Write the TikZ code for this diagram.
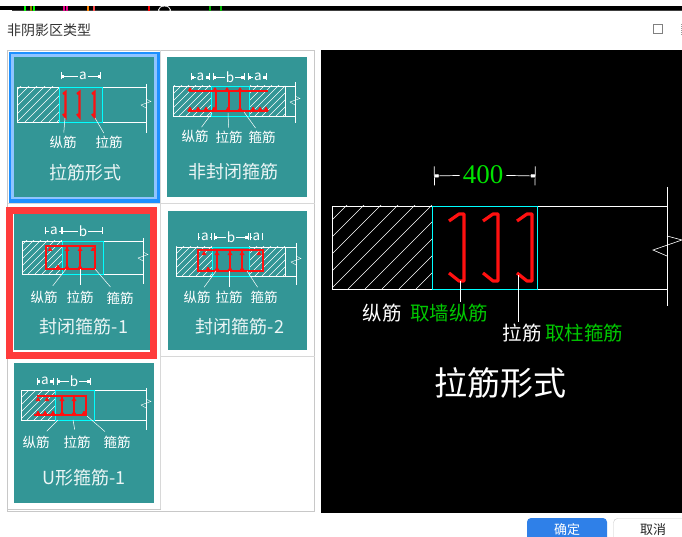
\documentclass[tikz,border=0pt]{standalone}
\usepackage{fontspec}
\usepackage{xcolor}
\setmainfont{Noto Sans CJK SC}
\newfontfamily\cadfont{Liberation Serif}
\usetikzlibrary{arrows.meta,calc,positioning}
\definecolor{cardteal}{HTML}{339696}
\definecolor{selblue}{HTML}{1E90FF}
\definecolor{sellight}{HTML}{8FC4FF}
\definecolor{markred}{HTML}{FF3B3B}
\definecolor{barred}{HTML}{FF1010}
\definecolor{cadcyan}{HTML}{00FFFF}
\definecolor{cadgreen}{HTML}{00C800}
\definecolor{okblue}{HTML}{2F80E8}
\definecolor{gridgray}{HTML}{C8C8C8}
\definecolor{celgray}{HTML}{D8D8D8}
\tikzset{
	wallline/.style={white, line width=0.8pt},
	cyanline/.style={cadcyan, line width=0.8pt},
	hatchline/.style={white, line width=0.4pt},
	rebar/.style={barred, line width=2pt},
	hoopbar/.style={barred, line width=2.4pt},
	leader/.style={white, line width=0.5pt, shorten >=3pt},
	dimline/.style={white, line width=0.7pt, {Bar[width=7pt,sep=1.5pt]Square[length=2.5pt,width=2.5pt]}-},
	dimplain/.style={white, line width=0.7pt, {Bar[width=7pt]}-},
	dimtext/.style={text=white, font=\fontsize{13.5}{14}\selectfont, inner sep=1pt},
	partlabel/.style={text=white, font=\fontsize{13.5}{14}\selectfont, inner sep=0pt},
	cardtitle/.style={text=white!90!cardteal, font=\fontsize{18}{18}\selectfont, inner sep=0pt},
	cadlabel/.style={font=\fontsize{19.5}{20}\selectfont, inner sep=0pt},
	card/.style={fill=cardteal, draw=none},
}
\newcommand{\hatchbox}[5]{%
	\begin{scope}
		\clip (#1,#2) rectangle (#3,#4);
		\pgfmathsetmacro{\hatchnext}{-120+#5}
		\foreach \k in {-120,\hatchnext,...,130}
			\draw [hatchline] ($(#1,#4)+(\k,0)$) -- ++(120,-120);
	\end{scope}
}
\newcommand{\barmark}[2]{\fill [barred] (#1-2.5,#2) -- (#1,#2-4) -- (#1+2.5,#2) -- cycle;}
\newcommand{\breakmark}[2]{\draw [hatchline] (#1,#2-5) -- (#1+5,#2-2.5) -- (#1-5,#2+1) -- (#1,#2+4);}
\begin{document}
\begin{tikzpicture}[x=1pt, y=-1pt]
	\clip (0,0) rectangle (682,537);
	\fill [white] (0,0) rectangle (682,537);
	% window title
	\fill [black] (0,6) rectangle (682,10);
	\fill [black!75] (0,10) rectangle (682,11);
	\fill [white] (0,10) rectangle (12,12);
	\foreach \xa/\col in {24/green,30/olive,33/green,63/magenta,66/magenta,87/orange,93/red!70,148/red,209/green!70!black,220/green!70!black}
		\fill [\col] (\xa,6) rectangle (\xa+1.5,11);
	\draw [white, line width=0.8pt] (164.5,10) ellipse (6 and 4);
	\node [anchor=west, inner sep=0pt, text=black!80, font=\fontsize{14}{14}\selectfont] (wintitle) at (7,30) {非阴影区类型};
	\draw [black!50, line width=0.9pt] (653.5,24.5) rectangle (662.5,33.5);
	\draw [black!40, line width=1pt, densely dotted] (681.5,24) -- (681.5,35);
	% list frame
	\draw [gridgray, line width=1pt] (7.5,50.5) rectangle (314.5,511.5);
	\draw [celgray, line width=1pt] (160.5,50.5) -- (160.5,509.5);
	\draw [celgray, line width=1pt] (7.5,203.5) -- (314.5,203.5);
	\draw [celgray, line width=1pt] (160.5,356.5) -- (314.5,356.5);
	\draw [gridgray, line width=1pt] (7.5,509.5) -- (160.5,509.5);
	% selection marks
	\fill [selblue] (9,52) rectangle (160,203);
	\fill [sellight] (11,54) rectangle (157,199);
	\fill [markred] (6,207) rectangle (157,359);
	\fill [white] (13,214) rectangle (150,352);
	% cards
	\fill [card] (14,57) rectangle (154,197);
	\fill [card] (167,57) rectangle (307,197);
	\fill [card] (14,214) rectangle (150,350);
	\fill [card] (168,211) rectangle (307,350);
	\fill [card] (14,363) rectangle (154,503);

	% card 1
	\hatchbox{17}{87}{59}{122}{8}
	\draw [wallline] (17,87) rectangle (59,122);
	\draw [wallline] (59,87) -- (146,87);
	\draw [wallline] (59,122) -- (146,122);
	\draw [wallline] (146,84) -- (146,133);
	\draw [cyanline] (59,87) rectangle (102.5,122);
	\breakmark{146}{104}
	\foreach \xa in {65,79,94}
		\draw [rebar, line width=2.2pt] (\xa-2,94) -- (\xa+0.5,92) -- (\xa+0.5,117) -- (\xa-2,114);
	\coordinate (c1a) at (59,76);
	\coordinate (c1b) at (102.5,76);
	\node [dimtext] (c1dim) at (83,76) {a};
	\draw [dimline] (c1a) -- (c1dim);
	\draw [dimline] (c1b) -- (c1dim);
	\node [partlabel] (c1zong) at (63,142) {纵筋};
	\node [partlabel] (c1la) at (109,142) {拉筋};
	\coordinate (c1p) at (65,118);
	\coordinate (c1q) at (95,118);
	\draw [leader] (c1p) -- (c1zong);
	\draw [leader] (c1q) -- (c1la);
	\node [cardtitle] (c1title) at (85,173) {拉筋形式};

	% card 2
	\hatchbox{173}{86}{211}{116}{7}
	\hatchbox{249}{86}{285}{116}{7}
	\draw [wallline] (173,86) rectangle (285,116);
	\draw [wallline] (285,86) -- (295,86);
	\draw [wallline] (285,116) -- (295,116);
	\draw [wallline] (295,82) -- (295,123);
	\draw [cyanline] (211,86) rectangle (249,116);
	\breakmark{295}{101}
	\draw [hoopbar] (189,91) -- (268,91);
	\draw [hoopbar] (188,111) -- (268,111);
	\foreach \xa in {216,229,240}
		\draw [rebar] (\xa,91) -- (\xa,111);
	\foreach \xa in {190,215,227,240}
		\barmark{\xa}{91}
	\foreach \xa in {190,198,206,214,228,240,253,260,266}
		\barmark{\xa}{111}
	\coordinate (c2a) at (189,77);
	\coordinate (c2b) at (211,77);
	\coordinate (c2c) at (246,77);
	\coordinate (c2d) at (268,77);
	\node [dimtext] (c2dima) at (200.5,77) {a};
	\node [dimtext] (c2dimb) at (230,77) {b};
	\node [dimtext] (c2dimc) at (258,77) {a};
	\draw [dimline] (c2a) -- (c2dima);
	\draw [dimline] (c2b) -- (c2dima);
	\draw [dimline] (c2b) -- (c2dimb);
	\draw [dimline] (c2c) -- (c2dimb);
	\draw [dimline] (c2c) -- (c2dimc);
	\draw [dimline] (c2d) -- (c2dimc);
	\node [partlabel] (c2zong) at (195,136) {纵筋};
	\node [partlabel] (c2la) at (229,137) {拉筋};
	\node [partlabel] (c2gu) at (262,137) {箍筋};
	\coordinate (c2p) at (212,113);
	\coordinate (c2q) at (228,113);
	\coordinate (c2r) at (244,112);
	\draw [leader] (c2p) -- (c2zong);
	\draw [leader] (c2q) -- (c2la);
	\draw [leader] (c2r) -- (c2gu);
	\node [cardtitle] (c2title) at (233,172) {非封闭箍筋};

	% card 3
	\hatchbox{22}{241}{62}{274}{7}
	\draw [wallline] (22,241) rectangle (62,274);
	\draw [wallline] (62,241) -- (143,241);
	\draw [wallline] (62,274) -- (143,274);
	\draw [wallline] (143,238) -- (143,284);
	\draw [cyanline] (62,241) rectangle (103,274);
	\breakmark{143}{257}
	\draw [hoopbar] (46,246) rectangle (95,269);
	\foreach \xa in {67,80}
		\draw [rebar] (\xa,246) -- (\xa,269);
	\foreach \xa in {50,67,80,93}
		\barmark{\xa}{251}
	\foreach \xa in {58,67,80}
		\barmark{\xa}{269}
	\coordinate (c3a) at (45,231);
	\coordinate (c3b) at (62,231);
	\coordinate (c3c) at (102.5,231);
	\node [dimtext] (c3dima) at (54,231) {a};
	\node [dimtext] (c3dimb) at (83,231) {b};
	\draw [dimplain] (c3a) -- (c3dima);
	\draw [dimplain] (c3b) -- (c3dima);
	\draw [dimplain] (c3b) -- (c3dimb);
	\draw [dimplain] (c3c) -- (c3dimb);
	\node [partlabel] (c3zong) at (44,297) {纵筋};
	\node [partlabel] (c3la) at (80,297) {拉筋};
	\node [partlabel] (c3gu) at (120,298) {箍筋};
	\coordinate (c3p) at (66,269);
	\coordinate (c3q) at (80,269);
	\coordinate (c3r) at (95,269);
	\draw [leader, shorten >=6pt] (c3p) -- (c3zong);
	\draw [leader, shorten >=6pt] (c3q) -- (c3la);
	\draw [leader, shorten >=6pt] (c3r) -- (c3gu);
	\node [cardtitle] (c3title) at (84,327) {封闭箍筋-1};

	% card 4
	\hatchbox{176}{247}{212}{276}{7}
	\hatchbox{249}{247}{285}{276}{7}
	\draw [wallline] (176,247) rectangle (285,276);
	\draw [wallline] (285,247) -- (296,247);
	\draw [wallline] (285,276) -- (296,276);
	\draw [wallline] (296,243) -- (296,285);
	\draw [cyanline] (212,247) rectangle (249,276);
	\breakmark{296}{261}
	\draw [hoopbar] (198,250) rectangle (263,271);
	\foreach \xa in {217,230,242}
		\draw [rebar] (\xa,250) -- (\xa,271);
	\foreach \xa in {204,217,230,242,259}
		\barmark{\xa}{255}
	\foreach \xa in {208,217,230,242}
		\barmark{\xa}{271}
	\coordinate (c4a) at (198,237);
	\coordinate (c4b) at (212,237);
	\coordinate (c4c) at (250,237);
	\coordinate (c4d) at (263,237);
	\node [dimtext] (c4dima) at (205,237) {a};
	\node [dimtext] (c4dimb) at (231,237) {b};
	\node [dimtext] (c4dimc) at (256.5,237) {a};
	\draw [dimplain] (c4a) -- (c4dima);
	\draw [dimline] (c4b) -- (c4dimb);
	\draw [dimline] (c4c) -- (c4dimb);
	\draw [dimplain] (c4d) -- (c4dimc);
	\draw [dimplain] (c4b) -- (c4dima);
	\draw [dimplain] (c4c) -- (c4dimc);
	\node [partlabel] (c4zong) at (197,297) {纵筋};
	\node [partlabel] (c4la) at (229,297) {拉筋};
	\node [partlabel] (c4gu) at (264,297) {箍筋};
	\coordinate (c4p) at (216,271);
	\coordinate (c4q) at (229,271);
	\coordinate (c4r) at (247,271);
	\draw [leader, shorten >=4pt] (c4p) -- (c4zong);
	\draw [leader, shorten >=4pt] (c4q) -- (c4la);
	\draw [leader, shorten >=4pt] (c4r) -- (c4gu);
	\node [cardtitle] (c4title) at (240,327) {封闭箍筋-2};

	% card 5
	\hatchbox{21}{390}{55}{420}{7}
	\draw [wallline] (21,390) rectangle (55,420);
	\draw [wallline] (55,390) -- (146,390);
	\draw [wallline] (55,420) -- (146,420);
	\draw [wallline] (146,388) -- (146,430);
	\draw [cyanline] (55,390) rectangle (94,420);
	\breakmark{146}{404}
	\draw [hoopbar] (37,396) -- (86,396) -- (86,415) -- (34,415);
	\foreach \xa in {62,74}
		\draw [rebar] (\xa,396) -- (\xa,415);
	\foreach \xa in {38,47,62,74}
		\barmark{\xa}{401}
	\foreach \xa in {38,45,53,62,74,84}
		\barmark{\xa}{415}
	\coordinate (c5a) at (35,381);
	\coordinate (c5b) at (55,381);
	\coordinate (c5c) at (92,381);
	\node [dimtext] (c5dima) at (45,381) {a};
	\node [dimtext] (c5dimb) at (74,381) {b};
	\draw [dimline] (c5a) -- (c5dima);
	\draw [dimline] (c5b) -- (c5dima);
	\draw [dimline] (c5b) -- (c5dimb);
	\draw [dimline] (c5c) -- (c5dimb);
	\node [partlabel] (c5zong) at (36,442) {纵筋};
	\node [partlabel] (c5la) at (77,442) {拉筋};
	\node [partlabel] (c5gu) at (117,442) {箍筋};
	\coordinate (c5p) at (58,420);
	\coordinate (c5q) at (73,420);
	\coordinate (c5r) at (87,416);
	\draw [leader, shorten >=6pt] (c5p) -- (c5zong);
	\draw [leader, shorten >=6pt] (c5q) -- (c5la);
	\draw [leader, shorten >=6pt] (c5r) -- (c5gu);
	\node [cardtitle] (c5title) at (84,478) {U形箍筋-1};

	% preview panel
	\fill [black] (321,50) rectangle (682,513);
	\hatchbox{332}{206}{432}{289}{17}
	\draw [wallline] (332.5,206.5) rectangle (432.5,289);
	\draw [wallline] (432.5,206.5) -- (667,206.5);
	\draw [wallline] (432.5,289) -- (667,289);
	\draw [wallline] (667,187) -- (667,306);
	\draw [hatchline, line width=0.6pt] (667,236) -- (682,240) -- (653,250) -- (667,256);
	\draw [cyanline] (432.5,206.5) rectangle (537,289);
	\foreach \xa in {464,498,532}
		\draw [barred, line width=3.2pt, line join=round] (\xa-15,221) -- (\xa-5,214) -- (\xa,214) -- (\xa,281) -- (\xa-5,281) -- (\xa-15,273);
	\coordinate (pa) at (432.5,176);
	\coordinate (pb) at (537,176);
	\node [text=cadgreen!50!green, font=\cadfont\fontsize{27}{27}\selectfont, inner sep=3pt] (pdim) at (483,175) {400};
	\draw [dimline, {Bar[width=19pt,sep=1.5pt]Square[length=4pt,width=3pt]}-] (pa) -- (pdim);
	\draw [dimline, {Bar[width=19pt,sep=1.5pt]Square[length=4pt,width=3pt]}-] (pb) -- (pdim);
	\node [cadlabel, text=white] (pzong) at (382,313) {纵筋};
	\node [cadlabel, text=cadgreen] (pqiang) at (449,313) {取墙纵筋};
	\node [cadlabel, text=white] (pla) at (522,333) {拉筋};
	\node [cadlabel, text=cadgreen] (pzhu) at (584,333) {取柱箍筋};
	\coordinate (pp) at (460,281);
	\coordinate (pq) at (518,275);
	\coordinate (pz) at (460,302);
	\coordinate (pr) at (518,322);
	\draw [leader, line width=0.8pt, shorten >=0pt] (pp) -- (pz);
	\draw [leader, line width=0.8pt, shorten >=0pt] (pq) -- (pr);
	\node [text=white, font=\fontsize{33}{33}\selectfont, inner sep=0pt] (ptitle) at (500,383) {拉筋形式};

	% buttons
	\fill [okblue, rounded corners=4pt] (527,518) rectangle (607,550);
	\draw [gridgray, rounded corners=4pt] (613.5,518.5) rectangle (700,550);
	\node [text=white, font=\fontsize{13}{14}\selectfont, inner sep=0pt] (okbtn) at (567,530) {确定};
	\node [text=black!85, font=\fontsize{13}{14}\selectfont, inner sep=0pt] (cancelbtn) at (653,530) {取消};
\end{tikzpicture}
\end{document}
